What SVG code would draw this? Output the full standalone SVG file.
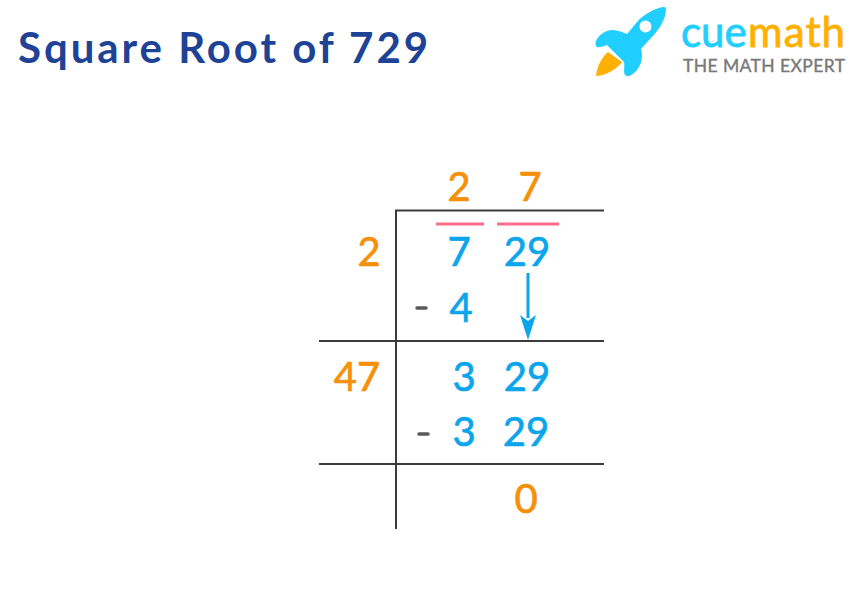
<svg xmlns="http://www.w3.org/2000/svg" width="864" height="589" viewBox="0 0 864 589">
<style>
text{font-family:"Lato","Noto Sans",sans-serif}
.t{font-size:42px;font-weight:700;fill:#1e4396;letter-spacing:2.95px}
.n{font-size:40px;font-weight:400;text-anchor:middle;stroke-width:.7px;stroke-linejoin:round}
.o{fill:#f79009;stroke:#f79009}
.b{fill:#0ba5ec;stroke:#0ba5ec}
.rule{stroke:#3b3b3b;stroke-width:2;fill:none}
.bar{stroke:#ff6b8a;stroke-width:3;fill:none}
.dash{stroke:#58595b;stroke-width:3.5;stroke-linecap:round}
.logo1{font-size:42px;font-weight:400;stroke-width:.8px}
</style>
<rect width="864" height="589" fill="#fff"/>
<g id="title"><text class="t" x="18" y="63">Square Root of 729</text></g>
<g id="logo">
<path d="M596 76 C597 66 602 57 608 52 L622 62 C617 69 607 75 596 76 Z" fill="#ffb000"/>
<path d="M664 7 C667 7 666 11 665 16 C662 25 657 32 650 39 L641 49 C643 56 642 63 637 70 C633 75 627 78 625 75 C623 71 625 66 624 62 L607 45 C603 46 598 49 596 46 C594 42 598 36 603 33 C609 29 615 29 627 34 L637 22 C644 14 655 8 664 7 Z" fill="#20cfff"/>
<circle cx="645.500" cy="26.500" r="6" fill="#fff"/>
<text class="logo1" x="681" y="47" fill="#20cfff" stroke="#20cfff">cue</text>
<text class="logo1" x="748" y="47" fill="#ffb000" stroke="#ffb000" textLength="97">math</text>
<text x="683" y="72" font-size="17.500" fill="#77797b" stroke="#77797b" stroke-width=".4" textLength="162">THE MATH EXPERT</text>
</g>
<g id="connectors">
<path class="rule" d="M396 529 V210.500 H604"/>
<path class="rule" d="M319 341 H604"/>
<path class="rule" d="M319 464 H604"/>
<path class="bar" d="M436 224 H484"/>
<path class="bar" d="M497 224 H559"/>
<path d="M528 273 V318" stroke="#0ba5ec" stroke-width="3" fill="none"/>
<path d="M520 315 L528 321 L536 315 L528 340 Z" fill="#0ba5ec"/>
</g>
<g id="quotient"><text class="n o" x="459" y="200.500">2</text><text class="n o" x="530" y="200.500">7</text></g>
<g id="row1"><text class="n o" x="369" y="265.500">2</text><text class="n b" x="459" y="265.500">7</text><text class="n b" x="527" y="265.500">29</text></g>
<g id="row2"><path class="dash" d="M417 308 H426"/><text class="n b" x="461" y="321.500">4</text></g>
<g id="row3"><text class="n o" x="357" y="390.500">47</text><text class="n b" x="464" y="390.500">3</text><text class="n b" x="527" y="390.500">29</text></g>
<g id="row4"><path class="dash" d="M419 434 H428"/><text class="n b" x="464" y="445.500">3</text><text class="n b" x="526" y="445.500">29</text></g>
<g id="result"><text class="n o" x="526" y="512.500">0</text></g>
</svg>
